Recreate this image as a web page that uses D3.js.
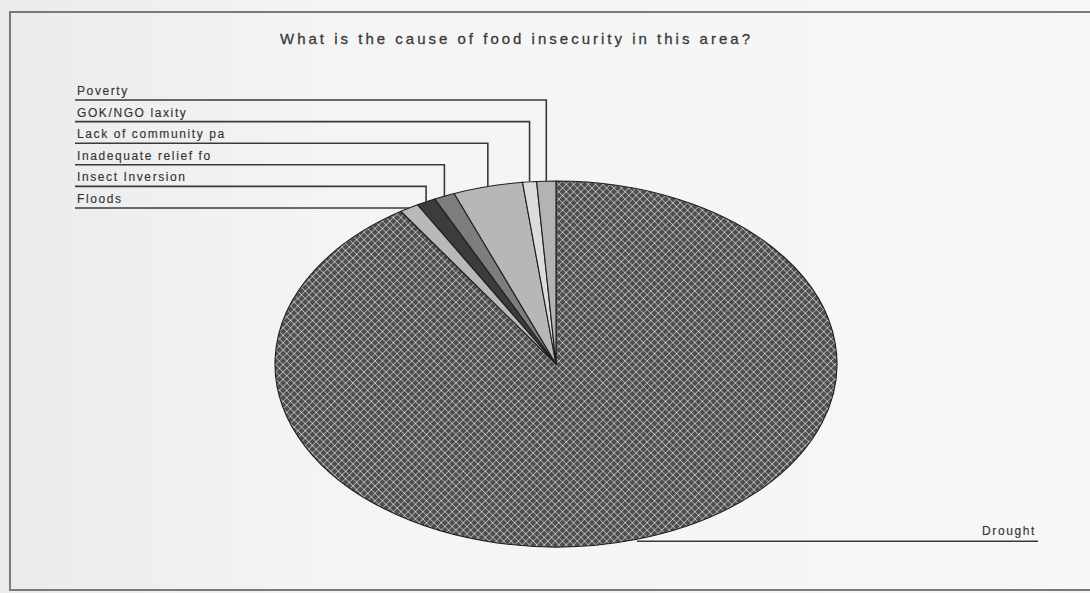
<!DOCTYPE html>
<html>
<head>
<meta charset="utf-8">
<script src="https://cdn.jsdelivr.net/npm/d3@7"></script>
<style>
  html, body { margin: 0; padding: 0; background: #f3f3f3; }
  svg { display: block; }
</style>
</head>
<body>
<svg id="chart" width="1090" height="593"></svg>
<script>
// Causes of food insecurity, percent of respondents (clockwise from 12 o'clock)
const categories = ["Drought", "Floods", "Insect Inversion", "Inadequate relief fo",
                    "Lack of community pa", "GOK/NGO laxity", "Poverty"];
const percents = [90.7, 1.1, 1.1, 1.2, 4.0, 0.8, 1.1];
// Order of the stacked labels at the top-left, top to bottom
const labelOrder = ["Poverty", "GOK/NGO laxity", "Lack of community pa",
                    "Inadequate relief fo", "Insect Inversion", "Floods"];
const title = "What is the cause of food insecurity in this area?";

const fills = {
  "Drought": "url(#crosshatch)",
  "Floods": "#b9b9b9",
  "Insect Inversion": "#3c3c3c",
  "Inadequate relief fo": "#7d7d7d",
  "Lack of community pa": "#b7b7b7",
  "GOK/NGO laxity": "#dcdcdc",
  "Poverty": "#b3b3b3"
};

const svg = d3.select("#chart");
const W = 1090, H = 593;
const FONT = "Liberation Sans, Arial, sans-serif";

// soft paper background
const defs = svg.append("defs");
const bg = defs.append("linearGradient").attr("id", "paper")
  .attr("x1", 0).attr("x2", 1).attr("y1", 0).attr("y2", 0);
bg.append("stop").attr("offset", 0).attr("stop-color", "#ebebeb");
bg.append("stop").attr("offset", 0.3).attr("stop-color", "#f4f4f4");
bg.append("stop").attr("offset", 1).attr("stop-color", "#f7f7f7");
svg.append("rect").attr("width", W).attr("height", H).attr("fill", "url(#paper)");

// cross-hatch fill for the dominant slice
const S = 5.2;
const pat = defs.append("pattern").attr("id", "crosshatch")
  .attr("patternUnits", "userSpaceOnUse")
  .attr("width", S).attr("height", S)
  .attr("patternTransform", "rotate(45)");
pat.append("rect").attr("width", S).attr("height", S).attr("fill", "#4e4e4e");
pat.append("line").attr("x1", 0).attr("y1", 0).attr("x2", S).attr("y2", 0)
  .attr("stroke", "#c4c4c4").attr("stroke-width", 1.4);
pat.append("line").attr("x1", 0).attr("y1", 0).attr("x2", 0).attr("y2", S)
  .attr("stroke", "#c4c4c4").attr("stroke-width", 1.4);
pat.append("rect").attr("x", -0.8).attr("y", -0.8).attr("width", 1.6).attr("height", 1.6)
  .attr("fill", "#ececec");

// frame
svg.append("path")
  .attr("d", `M1100,12 L10,12 L10,590 L1100,590`)
  .attr("fill", "none").attr("stroke", "#7a7a7a").attr("stroke-width", 2);

// title
svg.append("text")
  .attr("x", 515).attr("y", 44)
  .attr("text-anchor", "middle")
  .attr("font-family", FONT)
  .attr("font-size", 15).attr("fill", "#3a3a3a")
  .attr("stroke", "#3a3a3a").attr("stroke-width", 0.3)
  .attr("textLength", 470).attr("lengthAdjust", "spacing")
  .text(title);

// pie geometry (stretched circle -> ellipse)
const cx = 556, cy = 364, rx = 281, ry = 183;
const data = categories.map((c, i) => ({ name: c, value: percents[i] }));
const pie = d3.pie().value(d => d.value).sort(null);
const arcs = pie(data);
const pt = a => [cx + rx * Math.sin(a), cy - ry * Math.cos(a)];

function slicePath(d) {
  const p0 = pt(d.startAngle), p1 = pt(d.endAngle);
  const large = d.endAngle - d.startAngle > Math.PI ? 1 : 0;
  return `M${cx},${cy} L${p0[0]},${p0[1]} A${rx},${ry} 0 ${large} 1 ${p1[0]},${p1[1]} Z`;
}

svg.append("g").selectAll("path").data(arcs).join("path")
  .attr("d", slicePath)
  .attr("fill", d => fills[d.data.name])
  .attr("stroke", "#1e1e1e").attr("stroke-width", 1.1)
  .attr("stroke-linejoin", "round");

// leader lines and labels
const byName = Object.fromEntries(arcs.map(a => [a.data.name, a]));
const lineY = d3.scalePoint().domain(labelOrder).range([100, 208]);
const leaders = svg.append("g");
function label(x, y, text, anchor) {
  leaders.append("text")
    .attr("x", x).attr("y", y)
    .attr("text-anchor", anchor)
    .attr("font-family", FONT)
    .attr("font-size", 12).attr("fill", "#333")
    .attr("stroke", "#333").attr("stroke-width", 0.15)
    .attr("letter-spacing", 1.6)
    .text(text);
}
labelOrder.forEach(name => {
  const a = byName[name];
  const mid = (a.startAngle + a.endAngle) / 2;
  const [mx, my] = pt(mid);
  const y = lineY(name);
  leaders.append("path")
    .attr("d", `M75,${y} L${mx},${y} L${mx},${Math.max(my, y)}`)
    .attr("fill", "none").attr("stroke", "#3a3a3a").attr("stroke-width", 1.6);
  label(77, y - 5, name, "start");
});

// label for the dominant slice, on the right
const dr = byName["Drought"];
const dmid = (dr.startAngle + dr.endAngle) / 2;
const [dx, dy] = pt(dmid);
leaders.append("path")
  .attr("d", `M${dx},${dy + 2} L1038,${dy + 2}`)
  .attr("fill", "none").attr("stroke", "#3a3a3a").attr("stroke-width", 1.6);
label(1036, dy - 4, "Drought", "end");
</script>
</body>
</html>
